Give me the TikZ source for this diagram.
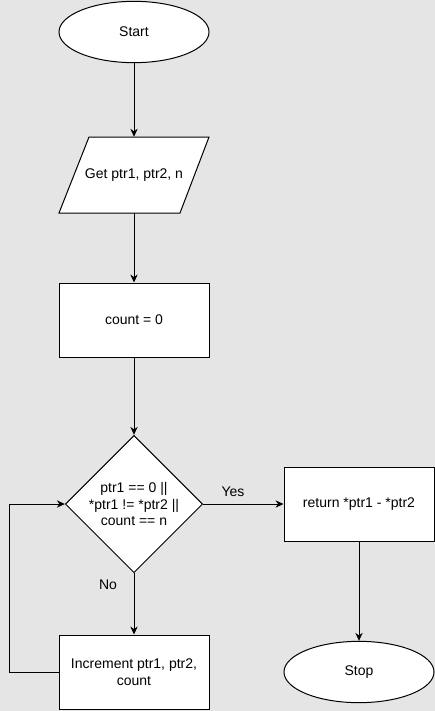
\documentclass[tikz,border=0pt]{standalone}
\usepackage{fontspec}
\setmainfont{Liberation Sans}
\usepackage{tikz}
\usetikzlibrary{shapes.geometric,arrows.meta}

\begin{document}
\begin{tikzpicture}[x=0.75pt,y=-0.75pt,
  flowline/.style={line width=0.75pt,black},
  arr/.style={flowline,-{Stealth[length=6pt,width=5.5pt]}},
  terminal/.style={ellipse,draw,fill=white,line width=0.75pt,minimum width=112.5pt,minimum height=46pt,inner sep=0pt,font=\fontsize{10.5}{12.5}\selectfont},
  iobox/.style={rectangle,minimum width=90pt,minimum height=57pt,inner sep=0pt,font=\fontsize{10.5}{12.5}\selectfont},
  procbox/.style={rectangle,draw,fill=white,line width=0.75pt,minimum width=112.5pt,minimum height=55.5pt,inner sep=0pt,align=center,font=\fontsize{10.5}{12.5}\selectfont},
  decision/.style={diamond,draw,fill=white,line width=0.75pt,minimum width=103pt,minimum height=103pt,aspect=1,inner sep=0pt,align=center,font=\fontsize{10.5}{12.5}\selectfont},
  lbl/.style={font=\fontsize{10.5}{12.5}\selectfont}]

% Background
\fill[black!10] (0,0) rectangle (435,711);
\useasboundingbox (0,0) rectangle (435,711);

% Parallelogram for input
\draw [flowline,fill=white] (59,213) -- (180,213) -- (209,137) -- (89,137) -- cycle;

% Main column
\node [terminal] (start) at (134,32) {Start};
\node [iobox] (input) at (134,175) {Get ptr1, ptr2, n};
\node [procbox] (init) at (134,320) {count = 0};
\node [decision] (check) at (134,504) {ptr1 == 0 ||\\*ptr1 != *ptr2 ||\\count == n};
\node [procbox] (incr) at (134,672) {Increment ptr1, ptr2,\\count};

% Right column
\node [procbox] (ret) at (359,504) {return *ptr1 - *ptr2};
\node [terminal] (stop) at (359,672) {Stop};

% Arrows for flow
\draw [arr] (start) -- (input);
\draw [arr] (input) -- (init);
\draw [arr] (init) -- (check);
\draw [arr] (check) -- (incr);
\draw [arr] (check.east) -- (ret.west);
\draw [arr] (ret) -- (stop);

% Loop back
\coordinate (loopcorner) at (9,672);
\draw [arr] (incr.west) -- (loopcorner) |- (check.west);

% Labels for branches
\node [lbl] (yes) at (233,492) {Yes};
\node [lbl] (no) at (108,585) {No};

\end{tikzpicture}
\end{document}
